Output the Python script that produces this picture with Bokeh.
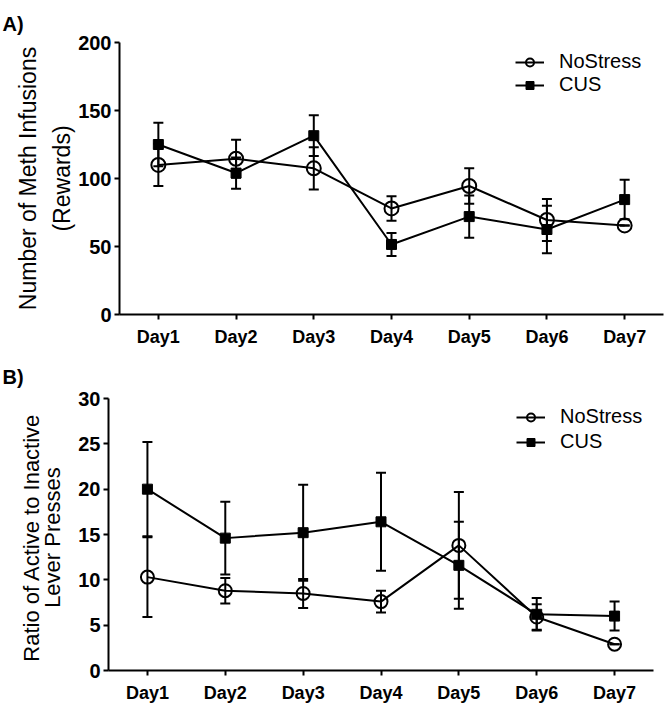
from bokeh.plotting import figure
from bokeh.models import (ColumnDataSource, Whisker, TeeHead, Legend, LegendItem,
                          FixedTicker, Title, Range1d)
from bokeh.layouts import column, row
from bokeh.embed import file_html
from bokeh.resources import INLINE

days = ["Day1", "Day2", "Day3", "Day4", "Day5", "Day6", "Day7"]

# Panel A: Number of Meth Infusions (Rewards)
a_nostress = [110, 114.5, 107.5, 78, 94.5, 69.5, 65.5]
a_nostress_err = [15.5, 14, 15.5, 9, 13, 15.5, 0]
a_cus = [125, 104, 131.5, 51.5, 72, 62.5, 84.5]
a_cus_err = [16, 11.5, 15, 8.5, 15.5, 17.5, 14.5]
a_yticks = [0, 50, 100, 150, 200]

# Panel B: Ratio of Active to Inactive Lever Presses
b_nostress = [10.3, 8.8, 8.5, 7.6, 13.8, 5.9, 2.9]
b_nostress_err = [4.4, 1.4, 1.6, 1.2, 5.9, 1.4, 0]
b_cus = [20.0, 14.6, 15.2, 16.4, 11.6, 6.2, 6.0]
b_cus_err = [5.2, 4.0, 5.3, 5.4, 4.8, 1.8, 1.6]
b_yticks = [0, 5, 10, 15, 20, 25, 30]

FONT = "Liberation Sans"
day_pos = list(range(1, len(days) + 1))


def make_panel(tag, ytitle, ns, ns_err, cus, cus_err, yticks, ymax,
               width, height, borders, title_offset, title_standoff,
               label_size, label_line_height, label_standoff,
               legend_loc, legend_spacing, circle_size):
    bl, br, bt, bb = borders
    p = figure(x_range=Range1d(0.5, len(days) + 0.5), y_range=Range1d(0, ymax),
               width=width, height=height, output_backend="svg",
               toolbar_location=None,
               min_border_left=bl, min_border_right=br,
               min_border_top=bt, min_border_bottom=bb)
    p.outline_line_color = None
    p.grid.visible = False
    p.background_fill_color = "white"
    p.border_fill_color = "white"

    src_ns = ColumnDataSource(dict(x=day_pos, y=ns,
                                   lo=[v - e for v, e in zip(ns, ns_err)],
                                   hi=[v + e for v, e in zip(ns, ns_err)]))
    src_cus = ColumnDataSource(dict(x=day_pos, y=cus,
                                    lo=[v - e for v, e in zip(cus, cus_err)],
                                    hi=[v + e for v, e in zip(cus, cus_err)]))

    l_ns = p.line("x", "y", source=src_ns, line_color="black", line_width=2)
    l_cus = p.line("x", "y", source=src_cus, line_color="black", line_width=2)

    for src in (src_cus, src_ns):
        w = Whisker(base="x", upper="hi", lower="lo", source=src,
                    line_color="black", line_width=2,
                    upper_head=TeeHead(size=10, line_color="black", line_width=2),
                    lower_head=TeeHead(size=10, line_color="black", line_width=2))
        p.add_layout(w)

    s_cus = p.scatter("x", "y", source=src_cus, marker="square", size=10,
                      fill_color="black", line_color="black", line_width=1)
    s_ns = p.scatter("x", "y", source=src_ns, marker="circle", size=circle_size,
                     fill_color=None, line_color="black", line_width=2)

    for ax in (p.xaxis[0], p.yaxis[0]):
        ax.axis_line_width = 2
        ax.axis_line_color = "black"
        ax.major_tick_line_width = 2
        ax.major_tick_line_color = "black"
        ax.major_tick_out = 5
        ax.major_tick_in = 0
        ax.minor_tick_line_color = None
        ax.major_label_text_font = FONT
        ax.major_label_text_font_style = "bold"
        ax.major_label_text_color = "black"
    p.xaxis.ticker = FixedTicker(ticks=day_pos)
    p.xaxis.major_label_overrides = {i: d for i, d in zip(day_pos, days)}
    p.xaxis.major_label_text_font_size = "18px"
    p.xaxis.major_label_standoff = 7
    p.xaxis.axis_label = None
    p.yaxis.major_label_text_font_size = "20px"
    p.yaxis.major_label_standoff = 3
    p.yaxis.ticker = FixedTicker(ticks=yticks)
    p.yaxis.axis_label = ytitle
    p.yaxis.axis_label_text_font = FONT
    p.yaxis.axis_label_text_font_style = "normal"
    p.yaxis.axis_label_text_font_size = label_size
    p.yaxis.axis_label_text_color = "black"
    p.yaxis.axis_label_text_line_height = label_line_height
    p.yaxis.axis_label_standoff = label_standoff

    legend = Legend(items=[LegendItem(label="NoStress", renderers=[l_ns, s_ns]),
                           LegendItem(label="CUS", renderers=[l_cus, s_cus])],
                    location=legend_loc, border_line_color=None,
                    background_fill_alpha=0, padding=0, margin=0,
                    spacing=legend_spacing, glyph_width=29, glyph_height=20,
                    label_height=20, label_standoff=15,
                    label_text_font=FONT, label_text_font_size="20px",
                    label_text_color="black")
    p.add_layout(legend)

    p.title = Title(text=tag, align="left", offset=title_offset,
                    standoff=title_standoff, text_font=FONT,
                    text_font_size="20px", text_font_style="bold",
                    text_color="black")
    return p


pa = make_panel("A)", "Number of Meth Infusions\n(Rewards)",
                a_nostress, a_nostress_err, a_cus, a_cus_err, a_yticks, 200,
                666, 350, (119, 3, 42, 36), -117, 16, "23px", 1.3, 0,
                (396, 218), 0, 14)
pb = make_panel("B)", "Ratio of  Active to Inactive\nLever  Presses",
                b_nostress, b_nostress_err, b_cus, b_cus_err, b_yticks, 30,
                666, 355, (108, 13, 48, 34), -106, 22, "22px", 0.85, 10,
                (408, 217), 2, 13)

layout = column(row(pa), row(pb), spacing=0)
open("out.html", "w").write(file_html(layout, INLINE))
